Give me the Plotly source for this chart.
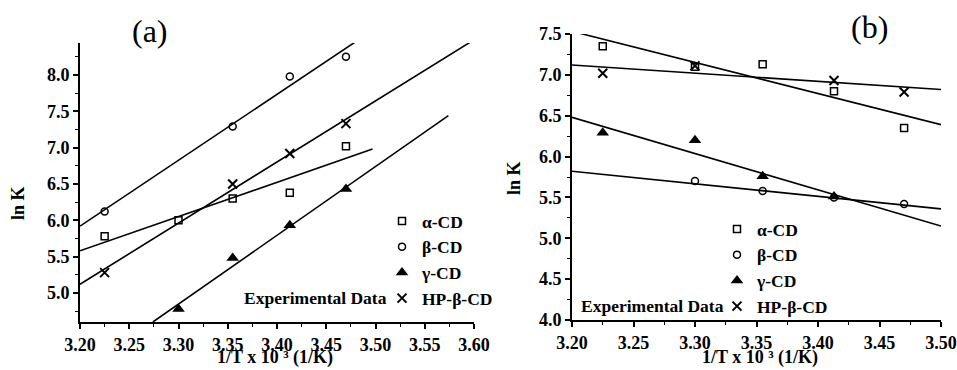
import plotly.graph_objects as go

# ---------------- data ----------------
# Panel (a)
a_alpha_x = [3.225, 3.300, 3.355, 3.413, 3.470]
a_alpha_y = [5.78, 6.00, 6.30, 6.38, 7.02]
a_beta_x = [3.225, 3.355, 3.413, 3.470]
a_beta_y = [6.12, 7.29, 7.98, 8.25]
a_gamma_x = [3.300, 3.355, 3.413, 3.470]
a_gamma_y = [4.78, 5.48, 5.93, 6.43]
a_hp_x = [3.225, 3.355, 3.413, 3.470]
a_hp_y = [5.28, 6.50, 6.92, 7.33]
# fitted lines (a): end points
a_fit_alpha_x = [3.200, 3.497]
a_fit_alpha_y = [5.58, 6.98]
a_fit_beta_x = [3.200, 3.479]
a_fit_beta_y = [5.92, 8.45]
a_fit_gamma_x = [3.274, 3.574]
a_fit_gamma_y = [4.60, 7.44]
a_fit_hp_x = [3.200, 3.596]
a_fit_hp_y = [5.12, 8.45]

# Panel (b)
b_alpha_x = [3.225, 3.300, 3.355, 3.413, 3.470]
b_alpha_y = [7.35, 7.10, 7.13, 6.80, 6.35]
b_beta_x = [3.300, 3.355, 3.413, 3.470]
b_beta_y = [5.70, 5.58, 5.50, 5.42]
b_gamma_x = [3.225, 3.300, 3.355, 3.413]
b_gamma_y = [6.29, 6.20, 5.76, 5.51]
b_hp_x = [3.225, 3.300, 3.413, 3.470]
b_hp_y = [7.02, 7.11, 6.93, 6.79]
b_fit_alpha_x = [3.206, 3.500]
b_fit_alpha_y = [7.51, 6.39]
b_fit_beta_x = [3.200, 3.500]
b_fit_beta_y = [5.82, 5.36]
b_fit_gamma_x = [3.200, 3.500]
b_fit_gamma_y = [6.48, 5.15]
b_fit_hp_x = [3.200, 3.500]
b_fit_hp_y = [7.12, 6.82]

series_names = ["α-CD", "β-CD", "γ-CD", "HP-β-CD"]

a_xticks = [3.20, 3.25, 3.30, 3.35, 3.40, 3.45, 3.50, 3.55, 3.60]
a_yticks = [5.0, 5.5, 6.0, 6.5, 7.0, 7.5, 8.0]
b_xticks = [3.20, 3.25, 3.30, 3.35, 3.40, 3.45, 3.50]
b_yticks = [4.0, 4.5, 5.0, 5.5, 6.0, 6.5, 7.0, 7.5]

# ---------------- styling ----------------
FONT = "Liberation Serif"
BLACK = "black"
markers = [
    dict(symbol="square-open", size=7, color=BLACK, line=dict(width=1.5, color=BLACK)),
    dict(symbol="circle-open", size=7, color=BLACK, line=dict(width=1.5, color=BLACK)),
    dict(symbol="triangle-up", size=11, color=BLACK, line=dict(width=0, color=BLACK)),
    dict(symbol="x-thin", size=9, color=BLACK, line=dict(width=2, color=BLACK)),
]

fig = go.Figure()

def add_panel(xa, ya, legend, pts, fits):
    for (fx, fy) in fits:
        fig.add_trace(go.Scatter(x=fx, y=fy, mode="lines", xaxis=xa, yaxis=ya,
                                 line=dict(color=BLACK, width=1.6), showlegend=False,
                                 hoverinfo="skip"))
    for name, (px, py), mk in zip(series_names, pts, markers):
        fig.add_trace(go.Scatter(x=px, y=py, mode="markers", xaxis=xa, yaxis=ya,
                                 marker=mk, name="<b>" + name + "</b>", legend=legend,
                                 showlegend=True))

add_panel("x", "y", "legend",
          [(a_alpha_x, a_alpha_y), (a_beta_x, a_beta_y), (a_gamma_x, a_gamma_y), (a_hp_x, a_hp_y)],
          [(a_fit_alpha_x, a_fit_alpha_y), (a_fit_beta_x, a_fit_beta_y),
           (a_fit_gamma_x, a_fit_gamma_y), (a_fit_hp_x, a_fit_hp_y)])
add_panel("x2", "y2", "legend2",
          [(b_alpha_x, b_alpha_y), (b_beta_x, b_beta_y), (b_gamma_x, b_gamma_y), (b_hp_x, b_hp_y)],
          [(b_fit_alpha_x, b_fit_alpha_y), (b_fit_beta_x, b_fit_beta_y),
           (b_fit_gamma_x, b_fit_gamma_y), (b_fit_hp_x, b_fit_hp_y)])

W, H = 957, 370

def axis_common(ticks, fmt, minor_dtick):
    return dict(showline=True, linecolor=BLACK, linewidth=2, mirror=False,
                showgrid=False, zeroline=False, ticks="outside", ticklen=5,
                tickwidth=1.5, tickcolor=BLACK, tickmode="array", tickvals=ticks,
                ticktext=[fmt.format(t) for t in ticks],
                tickfont=dict(family=FONT, size=18, color=BLACK, weight="bold"),
                ticklabeloverflow="allow",
                minor=dict(ticks="outside", ticklen=3, tickwidth=1.2, tickcolor=BLACK,
                           dtick=minor_dtick, showgrid=False),
                automargin=False)

xa = axis_common(a_xticks, "{:.2f}", 0.025)
xa.update(domain=[80 / W, 474 / W], range=[3.20, 3.60], anchor="y")
ya = axis_common(a_yticks, "{:.1f}", 0.25)
ya.update(domain=[(H - 322) / H, (H - 43) / H], range=[4.6, 8.44], anchor="x")
xb = axis_common(b_xticks, "{:.2f}", 0.025)
xb.update(domain=[572 / W, 941 / W], range=[3.20, 3.50], anchor="y2")
yb = axis_common(b_yticks, "{:.1f}", 0.25)
yb.update(domain=[(H - 320) / H, (H - 34) / H], range=[4.0, 7.5], anchor="x2")

legfont = dict(family=FONT, size=17.5, color=BLACK)

fig.update_layout(
    width=W, height=H, margin=dict(l=0, r=0, t=0, b=0, autoexpand=False),
    paper_bgcolor="white", plot_bgcolor="white",
    font=dict(family=FONT, color=BLACK, size=18),
    xaxis=xa, yaxis=ya, xaxis2=xb, yaxis2=yb,
    legend=dict(x=382 / W, y=(H - 203) / H, xanchor="left", yanchor="top",
                font=legfont, bgcolor="rgba(0,0,0,0)", tracegroupgap=0, itemwidth=30),
    legend2=dict(x=717 / W, y=(H - 211) / H, xanchor="left", yanchor="top",
                 font=legfont, bgcolor="rgba(0,0,0,0)", tracegroupgap=0, itemwidth=30),
    showlegend=True,
)

ann_font = dict(family=FONT, size=18, color=BLACK)
annotations = [
    dict(text="(a)", x=150 / W, y=(H - 31) / H, yanchor="middle",
         font=dict(family=FONT, size=32, color=BLACK)),
    dict(text="(b)", x=869 / W, y=(H - 27) / H, yanchor="middle",
         font=dict(family=FONT, size=32, color=BLACK)),
    dict(text="<b>ln K</b>", x=18 / W, y=(H - 203) / H, textangle=-90, yanchor="middle",
         font=ann_font),
    dict(text="<b>ln K</b>", x=514 / W, y=(H - 178) / H, textangle=-90, yanchor="middle",
         font=ann_font),
    dict(text="<b>1/T x 10 ³ (1/K)</b>", x=275 / W, y=(H - 370) / H,
         yanchor="bottom", font=ann_font),
    dict(text="<b>1/T x 10 ³ (1/K)</b>", x=760 / W, y=(H - 370) / H,
         yanchor="bottom", font=ann_font),
    dict(text="<b>Experimental Data</b>", x=389 / W, y=(H - 298) / H, xanchor="right",
         yanchor="middle", font=dict(family=FONT, size=17.5, color=BLACK)),
    dict(text="<b>Experimental Data</b>", x=726 / W, y=(H - 306) / H, xanchor="right",
         yanchor="middle", font=dict(family=FONT, size=17.5, color=BLACK)),
]
for a in annotations:
    a.setdefault("xanchor", "center")
    fig.add_annotation(xref="paper", yref="paper", showarrow=False, **a)

fig.write_html("out.html")
